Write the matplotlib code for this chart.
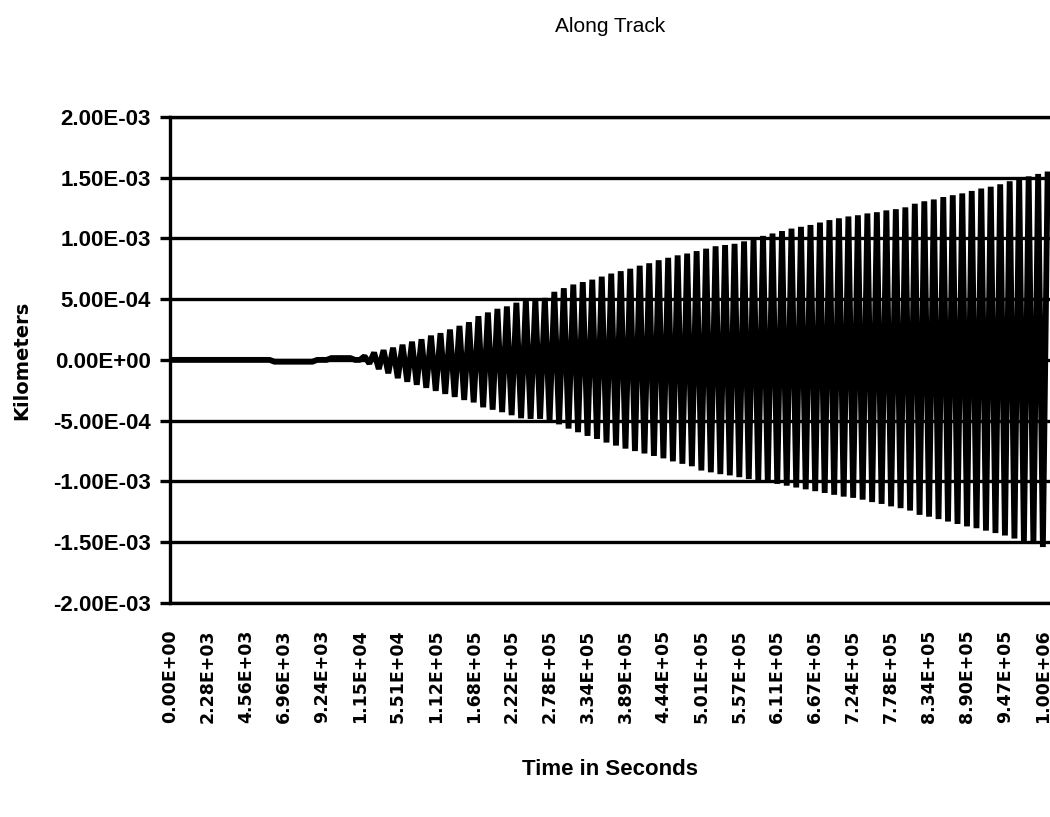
#!/usr/bin/env python3
"""Along Track: dense oscillation on an Excel-style category axis."""

import matplotlib
matplotlib.use("Agg")
import matplotlib.pyplot as plt
import numpy as np

# --- data (values below are in units of 1e-4 km) ---
# one value per category before the oscillation starts
lead_in = [0, 0, 0, 0, 0, 0, 0, 0, 0, 0, 0, 0, 0, 0, 0, 0, 0, 0, 0, 0, 0, 0,
           -0.15, -0.15, -0.15, -0.15, -0.15, -0.15, -0.15, -0.15, -0.15,
           0, 0, 0,
           0.15, 0.15, 0.15, 0.15, 0.15,
           0, 0]

# successive maxima and minima of the oscillation (alternate, starting with a max)
upper_peaks = [0.3, 0.6, 0.8, 1.0, 1.25, 1.5, 1.7, 2.0, 2.2, 2.5, 2.8, 3.1,
               3.6, 3.9, 4.2, 4.4, 4.7, 4.9, 5.0, 5.1, 5.6, 5.9, 6.2, 6.4, 6.6,
               6.85, 7.1, 7.3, 7.5, 7.75, 7.95, 8.2, 8.4, 8.6, 8.75, 8.95,
               9.15, 9.35, 9.45, 9.55, 9.75, 10.0, 10.2, 10.4, 10.6, 10.8, 10.95,
               11.1, 11.3, 11.5, 11.65, 11.8, 11.9, 12.05, 12.15, 12.3, 12.4,
               12.55, 12.85, 13.05, 13.2, 13.4, 13.55, 13.7, 13.9, 14.1,
               14.25, 14.45, 14.7, 14.9, 15.1, 15.3, 15.5]
lower_peaks = [-0.3, -0.75, -1.1, -1.5, -1.8, -2.05, -2.3, -2.55, -2.8, -3.05,
               -3.3, -3.5, -3.9, -4.1, -4.3, -4.55, -4.8, -4.85, -4.85,
               -5.0, -5.3, -5.65, -5.95, -6.25, -6.5, -6.8, -7.05, -7.3, -7.5,
               -7.7, -7.9, -8.1, -8.35, -8.55, -8.75, -9.1, -9.25, -9.4,
               -9.5, -9.65, -9.8, -9.95, -10.05, -10.2, -10.35, -10.5, -10.65,
               -10.8, -10.95, -11.1, -11.25, -11.35, -11.5, -11.7, -11.85,
               -12.05, -12.2, -12.4, -12.75, -12.9, -13.1, -13.3, -13.5,
               -13.7, -13.85, -14.05, -14.25, -14.45, -14.7, -14.95, -15.15,
               -15.4]

time_labels = ["0.00E+00", "2.28E+03", "4.56E+03", "6.96E+03", "9.24E+03",
               "1.15E+04", "5.51E+04", "1.12E+05", "1.68E+05", "2.22E+05",
               "2.78E+05", "3.34E+05", "3.89E+05", "4.44E+05", "5.01E+05",
               "5.57E+05", "6.11E+05", "6.67E+05", "7.24E+05", "7.78E+05",
               "8.34E+05", "8.90E+05", "9.47E+05", "1.00E+06"]
label_every = 8  # categories between labels

y_ticks = [-2.0e-3, -1.5e-3, -1.0e-3, -5.0e-4, 0.0, 5.0e-4, 1.0e-3, 1.5e-3, 2.0e-3]
y_labels = ["-2.00E-03", "-1.50E-03", "-1.00E-03", "-5.00E-04", "0.00E+00",
            "5.00E-04", "1.00E-03", "1.50E-03", "2.00E-03"]

# interleave max/min into one series of categories
osc = []
for i in range(len(upper_peaks)):
    osc.append(upper_peaks[i])
    if i < len(lower_peaks):
        osc.append(lower_peaks[i])
values = np.array(lead_in + osc) * 1e-4
cats = np.arange(len(values))

narrow = ["Liberation Sans Narrow", "Liberation Sans", "DejaVu Sans"]

fig = plt.figure(figsize=(10.5, 8.17), dpi=100)
ax = fig.add_axes([0.162, 0.262, 0.838, 0.595])

ax.plot(cats, values, color="black", lw=4.2, solid_joinstyle="bevel",
        solid_capstyle="butt")

ax.set_ylim(-2.0e-3, 2.0e-3)
ax.set_xlim(0, len(values) - 0.5)
ax.set_yticks(y_ticks)
ax.set_yticklabels(y_labels, family=narrow, fontweight="bold", fontsize=16)
xt = cats[::label_every][:len(time_labels)]
ax.set_xticks(xt)
ax.set_xticklabels(time_labels, rotation=90, family="DejaVu Sans",
                   fontweight="bold", fontsize=12.5, va="top")
ax.tick_params(axis="x", length=0, pad=19)
ax.tick_params(axis="y", length=7, width=2.4, color="black", pad=7)

ax.yaxis.grid(True, color="black", lw=2.4)
ax.set_axisbelow(True)
for side in ["left", "bottom", "top"]:
    ax.spines[side].set_linewidth(2.4)
ax.spines["right"].set_visible(False)

ax.set_ylabel("Kilometers", family="DejaVu Sans", fontweight="bold",
              fontsize=14)
ax.yaxis.set_label_coords(-0.158, 0.5)
ax.set_xlabel("Time in Seconds", family=narrow, fontweight="bold",
              fontsize=16, labelpad=26)

fig.text(0.581, 0.967, "Along Track", family=narrow, fontsize=15,
         ha="center", va="center")

fig.savefig("out.png", dpi=100)
